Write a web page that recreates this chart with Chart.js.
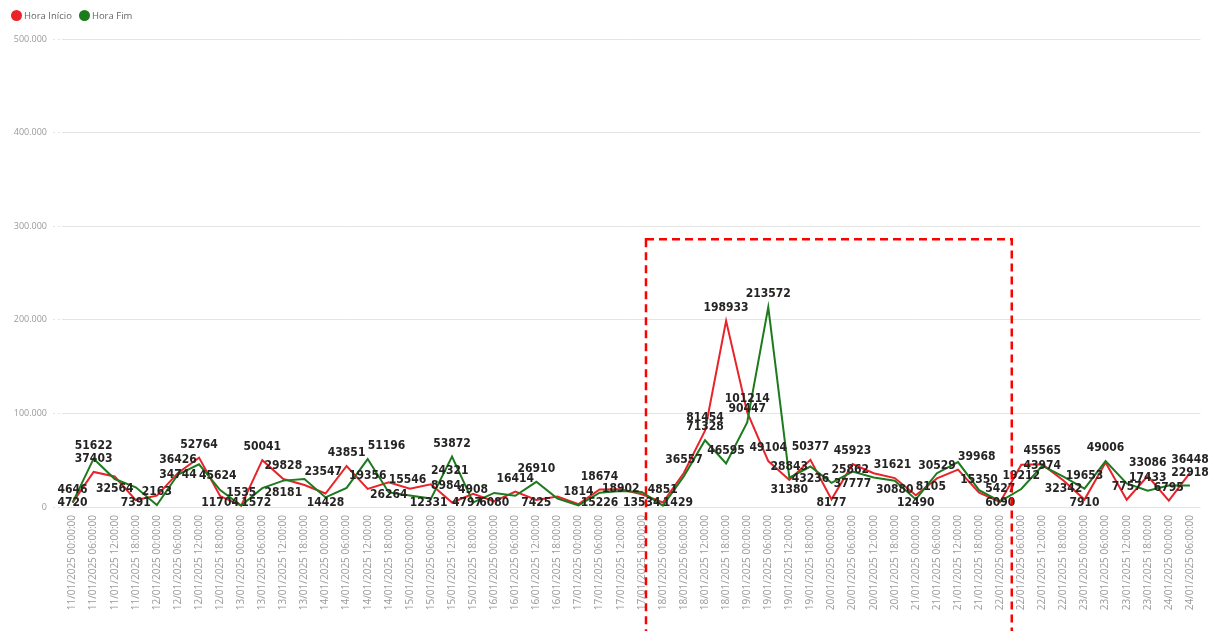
<!DOCTYPE html>
<html>
<head>
<meta charset="utf-8">
<script src="https://cdn.jsdelivr.net/npm/chart.js@4"></script>
<style>
  body { margin: 0; background: #fff; }
  #wrap { position: relative; width: 1210px; height: 631px; }
  #legend { position: absolute; top: 9px; left: 11px; font: 9.5px 'Open Sans', sans-serif; color: #666; display: flex; align-items: center; }
  #legend span.dot { display: inline-block; width: 11px; height: 11px; border-radius: 50%; margin-right: 2px; }
  #legend span.item { display: flex; align-items: center; margin-right: 7px; }
</style>
</head>
<body>
<div id="wrap">
  <canvas id="chart"></canvas>
  <div id="legend"></div>
</div>
<script>
// time buckets (6h)
const labels = [
  '11/01/2025 00:00:00', '11/01/2025 06:00:00', '11/01/2025 12:00:00', '11/01/2025 18:00:00',
  '12/01/2025 00:00:00', '12/01/2025 06:00:00', '12/01/2025 12:00:00', '12/01/2025 18:00:00',
  '13/01/2025 00:00:00', '13/01/2025 06:00:00', '13/01/2025 12:00:00', '13/01/2025 18:00:00',
  '14/01/2025 00:00:00', '14/01/2025 06:00:00', '14/01/2025 12:00:00', '14/01/2025 18:00:00',
  '15/01/2025 00:00:00', '15/01/2025 06:00:00', '15/01/2025 12:00:00', '15/01/2025 18:00:00',
  '16/01/2025 00:00:00', '16/01/2025 06:00:00', '16/01/2025 12:00:00', '16/01/2025 18:00:00',
  '17/01/2025 00:00:00', '17/01/2025 06:00:00', '17/01/2025 12:00:00', '17/01/2025 18:00:00',
  '18/01/2025 00:00:00', '18/01/2025 06:00:00', '18/01/2025 12:00:00', '18/01/2025 18:00:00',
  '19/01/2025 00:00:00', '19/01/2025 06:00:00', '19/01/2025 12:00:00', '19/01/2025 18:00:00',
  '20/01/2025 00:00:00', '20/01/2025 06:00:00', '20/01/2025 12:00:00', '20/01/2025 18:00:00',
  '21/01/2025 00:00:00', '21/01/2025 06:00:00', '21/01/2025 12:00:00', '21/01/2025 18:00:00',
  '22/01/2025 00:00:00', '22/01/2025 06:00:00', '22/01/2025 12:00:00', '22/01/2025 18:00:00',
  '23/01/2025 00:00:00', '23/01/2025 06:00:00', '23/01/2025 12:00:00', '23/01/2025 18:00:00',
  '24/01/2025 00:00:00', '24/01/2025 06:00:00'
];

const horaInicio = [
  4646, 37403, 32564, 7391, 12108, 36426, 52764, 11704,
  1535, 50041, 29828, 23547, 14428, 43851, 19356, 26264,
  19520, 24321, 4797, 14130, 6080, 16414, 7425, 11240,
  3012, 18674, 18902, 13534, 4851, 36557, 81454, 198933,
  101214, 49104, 28843, 50377, 8177, 45923, 36015, 30880,
  12490, 30529, 39968, 15350, 5427, 45102, 45565, 28310,
  7910, 47520, 7757, 33086, 6795, 36448
];

const horaFim = [
  4720, 51622, 29870, 21040, 2163, 34744, 45624, 18110,
  1572, 20130, 28181, 29950, 10230, 20410, 51196, 15546,
  12331, 8984, 53872, 4908, 15020, 12060, 26910, 9050,
  1814, 15226, 17040, 16120, 1429, 33020, 71328, 46595,
  90447, 213572, 31380, 43236, 25862, 37777, 31621, 28040,
  8105, 36120, 47950, 18030, 6090, 19212, 43974, 32342,
  19653, 49006, 25110, 17433, 23050, 22918
];

// points whose data label power bi dropped
const semRotuloInicio = [4, 16, 19, 23, 24, 38, 45, 47, 49];
const semRotuloFim = [2, 3, 7, 9, 11, 12, 13, 20, 21, 23, 26, 27, 29, 39, 41, 42, 43, 50, 52];

// highlight box (category index range, top value)
const boxFrom = 27.2;
const boxTo = 44.55;
const boxTop = 286000;

const RED = '#e8232a';
const GREEN = '#1d7a1d';

document.getElementById('legend').innerHTML =
  '<span class="item"><span class="dot" style="background:' + RED + '"></span>Hora Início</span>' +
  '<span class="item"><span class="dot" style="background:' + GREEN + '"></span>Hora Fim</span>';

function fmt(v) {
  return String(v).replace(/\B(?=(\d{3})+(?!\d))/g, '.');
}

// data labels: try above, below, on point, then nudged sideways; skip on overlap
const pointLabels = {
  id: 'pointLabels',
  afterDatasetsDraw(chart) {
    const ctx = chart.ctx;
    const area = chart.chartArea;
    const placed = [];
    ctx.save();
    ctx.font = 'bold 12px "DejaVu Sans Condensed", "DejaVu Sans", sans-serif';
    ctx.fillStyle = '#252423';
    ctx.textAlign = 'center';
    ctx.textBaseline = 'middle';
    const n = chart.data.labels.length;
    const lowest = area.bottom - 4;
    for (let i = 0; i < n; i++) {
      chart.data.datasets.forEach((ds, di) => {
        if (ds.semRotulo.includes(i)) return;
        const pt = chart.getDatasetMeta(di).data[i];
        const txt = String(ds.data[i]);
        const w = ctx.measureText(txt).width;
        const h = 9;
        const up = pt.y - 13;
        const down = Math.min(pt.y + 12, lowest);
        const mid = Math.min(pt.y, lowest);
        const tries = [
          [0, up], [0, down], [0, mid],
          [w / 2, up], [-w / 2, up], [w / 2, down], [-w / 2, down], [w / 2, mid], [-w / 2, mid]
        ];
        for (const [dx, y] of tries) {
          if (y - h / 2 < area.top) continue;
          const cx = pt.x + dx;
          const r = { x1: cx - w / 2 + 1.5, x2: cx + w / 2 - 1.5, y1: y - h / 2, y2: y + h / 2 };
          const hit = placed.some(p => r.x1 < p.x2 && r.x2 > p.x1 && r.y1 < p.y2 && r.y2 > p.y1);
          if (!hit) {
            placed.push(r);
            ctx.fillText(txt, cx, y);
            break;
          }
        }
      });
    }
    ctx.restore();
  }
};

const highlightBox = {
  id: 'highlightBox',
  afterDraw(chart) {
    const ctx = chart.ctx;
    const x = chart.scales.x;
    const y = chart.scales.y;
    const x1 = x.getPixelForValue(boxFrom);
    const x2 = x.getPixelForValue(boxTo);
    const y1 = y.getPixelForValue(boxTop);
    ctx.save();
    ctx.strokeStyle = '#ff0000';
    ctx.lineWidth = 2.5;
    ctx.setLineDash([8, 5]);
    ctx.strokeRect(x1, y1, x2 - x1, chart.height + 20 - y1);
    ctx.restore();
  }
};

new Chart(document.getElementById('chart'), {
  type: 'line',
  data: {
    labels: labels,
    datasets: [
      {
        label: 'Hora Início',
        data: horaInicio,
        semRotulo: semRotuloInicio,
        borderColor: RED,
        backgroundColor: RED,
        borderWidth: 2,
        pointRadius: 0,
        tension: 0,
        order: 1
      },
      {
        label: 'Hora Fim',
        data: horaFim,
        semRotulo: semRotuloFim,
        borderColor: GREEN,
        backgroundColor: GREEN,
        borderWidth: 2,
        pointRadius: 0,
        tension: 0,
        order: 0
      }
    ]
  },
  options: {
    responsive: true,
    maintainAspectRatio: false,
    animation: false,
    layout: { padding: { top: 39, right: 9, left: 0, bottom: 0 } },
    plugins: {
      legend: { display: false },
      tooltip: { enabled: false }
    },
    scales: {
      x: {
        offset: true,
        grid: { display: false, drawTicks: false },
        border: { display: false },
        ticks: {
          autoSkip: false,
          maxRotation: 90,
          minRotation: 90,
          padding: 8,
          color: '#9a9a9a',
          font: { family: "'Open Sans', sans-serif", size: 10 }
        },
        afterFit(scale) { scale.height = 124; }
      },
      y: {
        min: 0,
        max: 500000,
        border: { display: false },
        grid: {
          color: '#e4e4e4',
          borderDash: [2, 3],
          tickLength: 9,
          tickColor: '#e4e4e4',
          tickBorderDash: [2, 3],
          drawOnChartArea: true
        },
        ticks: {
          stepSize: 100000,
          padding: 6,
          color: '#9a9a9a',
          font: { family: "'Open Sans', sans-serif", size: 9 },
          callback: v => fmt(v)
        },
        afterFit(scale) { scale.width = 62; }
      }
    }
  },
  plugins: [pointLabels, highlightBox]
});
</script>
</body>
</html>
